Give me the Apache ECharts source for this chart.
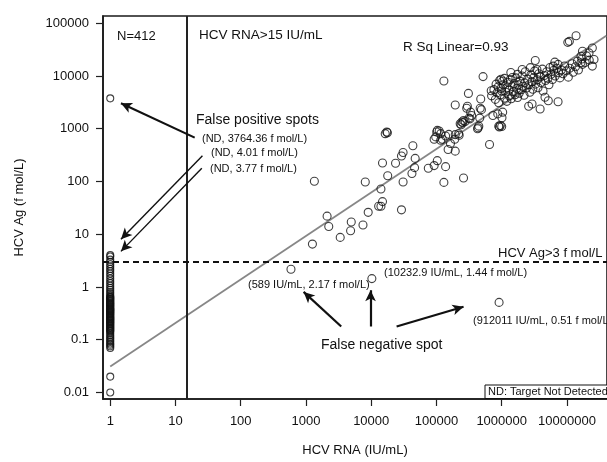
<!DOCTYPE html>
<html>
<head>
<meta charset="utf-8">
<script src="https://cdn.jsdelivr.net/npm/echarts@6/dist/echarts.min.js"></script>
<style>html,body{margin:0;padding:0;background:#fff}#c{width:607px;height:462px}</style>
</head>
<body>
<div id="c"></div>
<script>
// ---- tick labels ----
const rnaTickValues = [1, 10, 100, 1000, 10000, 100000, 1000000, 10000000];
const rnaTickLabels = ['1', '10', '100', '1000', '10000', '100000', '1000000', '10000000'];
const agTickValues = [0.01, 0.1, 1, 10, 100, 1000, 10000, 100000];
const agTickLabels = ['0.01', '0.1', '1', '10', '100', '1000', '10000', '100000'];

// ---- thresholds / fit ----
const rnaCutoff = 15;   // IU/mL
const agCutoff = 3;     // f mol/L
const fitRna = [1, 40000000];
const fitAg = [0.031, 57800];

// ---- ND samples (plotted at RNA = 1) ----
const ndAg = [3764.36, 4.01, 3.77, 3.3, 3.0, 2.7, 2.45, 2.2, 2.0, 1.8, 1.62, 1.45, 1.3, 1.18, 1.06,
  0.96, 0.88, 0.8, 0.74, 0.68, 0.65, 0.63, 0.61, 0.59, 0.57, 0.55, 0.53, 0.51, 0.49, 0.48, 0.46, 0.45,
  0.43, 0.42, 0.40, 0.39, 0.38, 0.37, 0.36, 0.35, 0.34, 0.33, 0.32, 0.31, 0.30, 0.29, 0.28, 0.27,
  0.26, 0.255, 0.245, 0.24, 0.23, 0.225, 0.215, 0.21, 0.2, 0.195, 0.185, 0.18, 0.172, 0.167, 0.16,
  0.155, 0.148, 0.143, 0.132, 0.122, 0.113, 0.105, 0.098, 0.091, 0.085, 0.08, 0.075, 0.07, 0.02, 0.01];

// ---- detected samples: HCV RNA (IU/mL) and HCV Ag (f mol/L) ----
const detRna = [
  589, 10232.9, 912011, 1256, 1345, 2108, 2235, 3350, 4830, 4945, 7480, 8110, 8990, 13000, 14100,
  14100, 14900, 14900, 16400, 17300, 17700, 17900, 23600, 29100, 29100, 30800, 30800, 42100, 43500, 46200,
  47200, 75000, 92200, 103000, 130000, 138000, 151000, 194000, 260000, 92200, 116000, 123000, 101000, 110000, 97500,
  103000, 116000, 138000, 155000, 191000, 194000, 219000, 223000, 164000, 130000, 194000, 298000, 309000, 334000, 315000,
  291000, 346000, 327000, 254000, 239000, 275000, 245000, 231000, 260000, 426000, 446000, 436000, 461000, 477000, 468000,
  489000, 518000, 651000, 691000, 733000, 901000, 921000, 953000, 1000000, 1010000, 1035000, 871000, 975000, 975000, 1035000,
  1380000, 1460000, 1740000, 2060000, 2750000, 3470000, 3270000, 2590000, 2920000, 3880000, 4610000, 5180000, 7310000, 6520000, 7310000,
  6150000, 10300000, 10900000, 13800000, 24500000, 17300000, 16400000, 21800000, 26000000, 17300000, 16400000, 24500000,
  700000, 760000, 800000, 820000, 850000, 880000, 900000, 930000, 960000, 1000000, 1050000, 1100000, 1100000, 1150000, 1200000,
  1200000, 1250000, 1300000, 1300000, 1350000, 1400000, 1450000, 1500000, 1550000, 1600000, 1650000, 1700000, 1750000, 1800000, 1850000,
  1900000, 2000000, 2050000, 2100000, 2200000, 2250000, 2300000, 2400000, 2500000, 2600000, 2700000, 2800000, 2900000, 3000000, 3100000,
  3200000, 3300000, 3500000, 3600000, 3700000, 3900000, 4000000, 4200000, 4300000, 4500000, 4700000, 4900000, 5100000, 5300000, 5500000,
  5700000, 6000000, 6300000, 6600000, 7000000, 7400000, 7800000, 8200000, 8700000, 9200000, 9800000, 10500000, 11000000, 12000000, 12500000,
  13500000, 14500000, 15000000, 17000000, 19000000, 20000000, 22000000
];
const detAg = [
  2.17, 1.44, 0.51, 6.5, 101, 22, 14, 8.7, 11.6, 17, 15, 98, 26, 34, 34,
  72, 41.5, 224, 806, 867, 842, 128, 221, 29, 303, 98, 355, 142, 474, 183,
  274, 178, 200, 248, 96, 191, 404, 376, 116, 630, 604, 630, 867, 906, 700,
  930, 806, 730, 782, 630, 772, 806, 750, 523, 8050, 2820, 2670, 4670, 2060, 1590,
  2450, 1780, 1540, 1300, 1190, 1370, 1340, 1240, 1430, 1000, 1120, 1040, 1590, 3650, 2450,
  2300, 9730, 501, 5230, 1780, 1120, 1080, 1150, 1100, 1610, 2060, 1910, 5800, 8670, 8050,
  11600, 9330, 10700, 13300, 14400, 13300, 19700, 2670, 2940, 2370, 3940, 3400, 3250, 18300, 16600,
  15400, 43400, 45300, 57900, 34000, 29400, 23700, 27400, 20500, 16600, 17800, 15400,
  4200, 5500, 3600, 7000, 4800, 6200, 3100, 8200, 4400, 5200, 6800, 3800, 9000, 4900, 6000,
  3300, 7600, 5400, 4200, 8600, 3700, 6300, 5000, 7200, 4400, 9200, 5800, 3900, 6800, 4700,
  8000, 5500, 10000, 6400, 4300, 7400, 12000, 5900, 8700, 6800, 4900, 10500, 7800, 5600, 9300,
  12500, 7000, 8500, 6000, 11000, 9600, 7500, 13500, 5200, 10200, 8200, 12000, 9000, 6800, 14500,
  10800, 8600, 12800, 10000, 14000, 11500, 9200, 13000, 11000, 15500, 12500, 9500, 14000, 17000, 11800,
  15000, 19000, 13000, 21000, 18000, 24000, 20000
];

const L = Math.log10;
const FONT = '"Liberation Sans", Arial, sans-serif';
const chart = echarts.init(document.getElementById('c'), null, {renderer: 'canvas'});

const ndData = ndAg.map(a => [L(1), L(a)]);
const detData = detRna.map((r, i) => [L(r), L(detAg[i])]);
const fitData = fitRna.map((r, i) => [L(r), L(fitAg[i])]);

function nearestLabel(v, vals, labels) {
  let best = 0, d = Infinity;
  vals.forEach((t, i) => { const dd = Math.abs(L(t) - v); if (dd < d) { d = dd; best = i; } });
  return labels[best];
}

// arrows (start -> end) in data space [RNA, Ag]
const arrows = [
  {from: [19.7, 678], to: [1.46, 3035], w: 2.2},
  {from: [25.9, 308], to: [1.46, 8.05], w: 1.4},
  {from: [25.3, 178], to: [1.46, 4.73], w: 1.4},
  {from: [3470, 0.178], to: [920, 0.805], w: 2.2},
  {from: [9770, 0.178], to: [9770, 0.867], w: 2.2},
  {from: [24500, 0.178], to: [260000, 0.422], w: 2.2}
];

const textColor = '#111';
function txt(x, y, text, size, align) {
  return {type: 'text', x: x, y: y, z: 100, silent: true,
    style: {text: text, font: size + 'px ' + FONT, fill: textColor,
      align: align || 'left', verticalAlign: 'middle', textAlign: align || 'left', textVerticalAlign: 'middle'}};
}

chart.setOption({
  animation: false,
  backgroundColor: '#fff',
  grid: {left: 103, top: 16, width: 515, height: 387, show: true, borderColor: '#1a1a1a', borderWidth: 1.6, backgroundColor: 'transparent'},
  xAxis: {
    type: 'value', min: -0.111, max: 7.614,
    name: 'HCV RNA (IU/mL)', nameLocation: 'middle', nameGap: 45,
    nameTextStyle: {fontFamily: FONT, fontSize: 13, color: textColor},
    axisLine: {show: true, onZero: false, lineStyle: {color: '#1a1a1a', width: 1.6}},
    axisTick: {show: true, length: 7, customValues: rnaTickValues.map(L), lineStyle: {color: '#222', width: 1.2}},
    axisLabel: {customValues: rnaTickValues.map(L), margin: 16, fontFamily: FONT, fontSize: 13, color: textColor,
      formatter: v => nearestLabel(v, rnaTickValues, rnaTickLabels)},
    splitLine: {show: false}
  },
  yAxis: {
    type: 'value', min: -2.124, max: 5.137,
    name: 'HCV Ag (f mol/L)', nameLocation: 'middle', nameGap: 77,
    nameTextStyle: {fontFamily: FONT, fontSize: 13, color: textColor},
    axisLine: {show: true, onZero: false, lineStyle: {color: '#1a1a1a', width: 1.6}},
    axisTick: {show: true, length: 7, customValues: agTickValues.map(L), lineStyle: {color: '#222', width: 1.2}},
    axisLabel: {customValues: agTickValues.map(L), margin: 14, fontFamily: FONT, fontSize: 13, color: textColor,
      formatter: v => nearestLabel(v, agTickValues, agTickLabels)},
    splitLine: {show: false}
  },
  series: [
    {
      type: 'line', data: fitData, showSymbol: false, symbol: 'none', silent: true, z: 1,
      lineStyle: {color: '#878787', width: 1.8},
      markLine: {
        silent: true, symbol: 'none', animation: false, label: {show: false},
        data: [
          {xAxis: L(rnaCutoff), lineStyle: {color: '#222', width: 2, type: 'solid'}},
          {yAxis: L(agCutoff), lineStyle: {color: '#111', width: 2, type: [6, 4]}}
        ]
      }
    },
    {
      type: 'scatter', data: ndData, symbol: 'circle', symbolSize: 7, z: 3, silent: true,
      itemStyle: {color: 'rgba(0,0,0,0)', borderColor: '#111', borderWidth: 1.1}
    },
    {
      type: 'scatter', data: detData, symbol: 'circle', symbolSize: 8, z: 3, silent: true,
      itemStyle: {color: 'rgba(0,0,0,0)', borderColor: '#111', borderWidth: 1.1},
      markLine: {
        silent: true, animation: false, symbol: ['none', 'arrow'], symbolSize: [8, 11], label: {show: false},
        data: arrows.map(a => [
          {coord: [L(a.from[0]), L(a.from[1])], lineStyle: {color: '#111', width: a.w, type: 'solid'}},
          {coord: [L(a.to[0]), L(a.to[1])], lineStyle: {color: '#111', width: a.w, type: 'solid'}}
        ])
      }
    }
  ],
  graphic: [
    txt(117, 36, 'N=412', 13),
    txt(199, 35, 'HCV RNA>15 IU/mL', 13.5),
    txt(403, 47, 'R Sq Linear=0.93', 13.5),
    txt(196, 120, 'False positive spots', 14),
    txt(202, 139, '(ND, 3764.36 f mol/L)', 11),
    txt(211, 153, '(ND, 4.01 f mol/L)', 11),
    txt(210, 169, '(ND, 3.77 f mol/L)', 11),
    txt(498, 253, 'HCV Ag>3 f mol/L', 13),
    txt(248, 285, '(589 IU/mL, 2.17 f mol/L)', 11),
    txt(384, 273, '(10232.9 IU/mL, 1.44 f mol/L)', 11),
    txt(473, 321, '(912011 IU/mL, 0.51 f mol/L)', 11),
    txt(321, 345, 'False negative spot', 14),
    {type: 'rect', z: 100, silent: true, shape: {x: 485, y: 385, width: 140, height: 13.5},
      style: {fill: '#fff', stroke: '#111', lineWidth: 1}},
    txt(488, 392, 'ND: Target Not Detected', 11)
  ]
});
</script>
</body>
</html>
